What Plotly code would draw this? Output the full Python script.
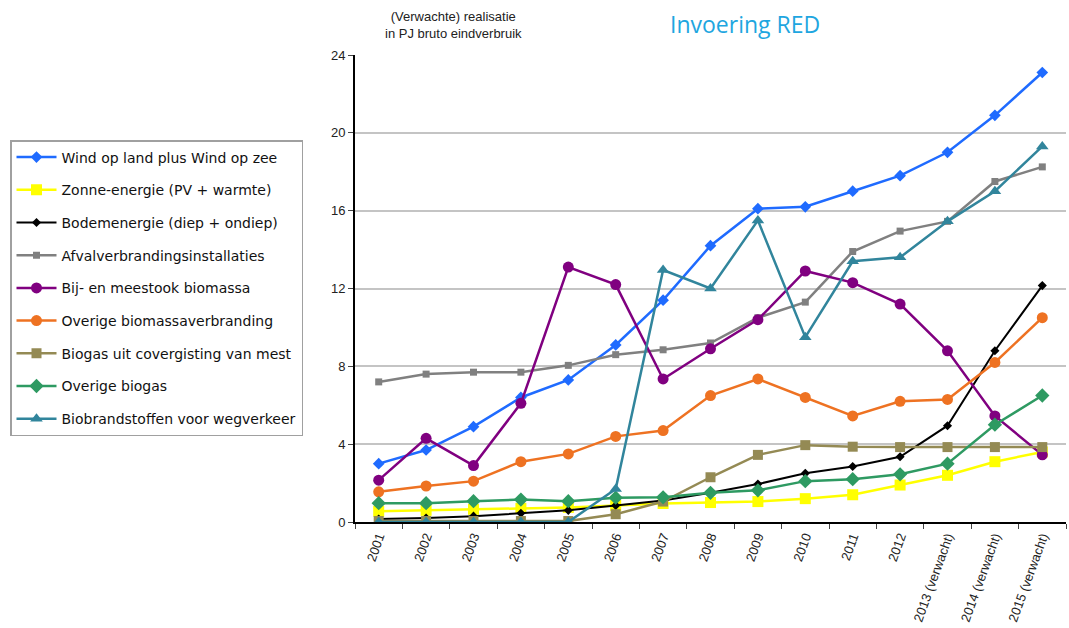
import plotly.graph_objects as go

years = ["2001", "2002", "2003", "2004", "2005", "2006", "2007", "2008", "2009",
         "2010", "2011", "2012", "2013 (verwacht)", "2014 (verwacht)", "2015 (verwacht)"]

wind = [3.0, 3.7, 4.9, 6.4, 7.3, 9.1, 11.4, 14.2, 16.1, 16.2, 17.0, 17.8, 19.0, 20.9, 23.1]
zon = [0.55, 0.6, 0.65, 0.7, 0.75, 0.85, 0.95, 1.0, 1.05, 1.2, 1.4, 1.9, 2.4, 3.1, 3.6]
bodem = [0.15, 0.2, 0.3, 0.45, 0.6, 0.85, 1.1, 1.5, 1.95, 2.5, 2.85, 3.35, 4.95, 8.8, 12.15]
afval = [7.2, 7.6, 7.7, 7.7, 8.05, 8.6, 8.85, 9.2, 10.5, 11.3, 13.9, 14.95, 15.45, 17.5, 18.25]
bijstook = [2.15, 4.3, 2.9, 6.1, 13.1, 12.2, 7.35, 8.9, 10.4, 12.9, 12.3, 11.2, 8.8, 5.45, 3.45]
overige_bio = [1.55, 1.85, 2.1, 3.1, 3.5, 4.4, 4.7, 6.5, 7.35, 6.4, 5.45, 6.2, 6.3, 8.2, 10.5]
covergisting = [0.05, 0.05, 0.05, 0.05, 0.05, 0.4, 1.05, 2.3, 3.45, 3.95, 3.87, 3.85, 3.85, 3.85, 3.85]
overige_biogas = [0.97, 0.97, 1.07, 1.15, 1.07, 1.25, 1.27, 1.5, 1.63, 2.1, 2.2, 2.45, 3.0, 5.0, 6.5]
biobrandstof = [0.0, 0.0, 0.0, 0.0, 0.0, 1.7, 12.95, 12.0, 15.5, 9.5, 13.4, 13.6, 15.45, 17.0, 19.3]

series = [
    ("Wind op land plus Wind op zee", wind, "#1F6BFF", "diamond", 9, 2.5),
    ("Zonne-energie (PV + warmte)", zon, "#FFFF00", "square", 11, 2.5),
    ("Bodemenergie (diep + ondiep)", bodem, "#000000", "diamond", 7, 2),
    ("Afvalverbrandingsinstallaties", afval, "#808080", "square", 7, 2.5),
    ("Bij- en meestook biomassa", bijstook, "#800080", "circle", 11, 2.5),
    ("Overige biomassaverbranding", overige_bio, "#EE7222", "circle", 11, 2.5),
    ("Biogas uit covergisting van mest", covergisting, "#948A54", "square", 10, 2.5),
    ("Overige biogas", overige_biogas, "#2E9A62", "diamond", 11, 2.5),
    ("Biobrandstoffen voor wegverkeer", biobrandstof, "#31859C", "triangle-up", 11, 2.5),
]

fig = go.Figure()
for i, (name, vals, color, sym, size, lw) in enumerate(series):
    fig.add_trace(go.Scatter(
        x=years, y=vals, name=name, mode="lines+markers",
        line=dict(color=color, width=lw),
        marker=dict(symbol=sym, size=size, color=color),
        legendgroup=f"g{i}",
    ))

fig.add_shape(type="line", xref="x", yref="y", x0=years[8], x1=years[8], y0=-0.2, y1=23.9,
              line=dict(color="#00B0F0", width=6), layer="above")

fig.add_annotation(text="Invoering RED", xref="paper", yref="paper", x=(745 - 355) / 711, y=(522 - 24) / 467,
                   showarrow=False, xanchor="center", yanchor="middle",
                   font=dict(family="Open Sans", size=23, color="#1EA6E0"))
fig.add_annotation(text="(Verwachte) realisatie<br>in PJ bruto eindverbruik", xref="paper", yref="paper",
                   x=(453 - 355) / 711, y=(522 - 25) / 467, showarrow=False, xanchor="center", yanchor="middle",
                   font=dict(family="Liberation Sans", size=13, color="#222222"))

fig.update_layout(
    width=1069, height=628,
    margin=dict(l=355, r=3, t=55, b=106),
    plot_bgcolor="white", paper_bgcolor="white",
    font=dict(family="Liberation Sans", color="#111111"),
    showlegend=True,
    legend=dict(
        x=(10 - 355) / 711, y=(522 - 140) / 467, xanchor="left", yanchor="top",
        bordercolor="#A0A0A0", borderwidth=1.5, bgcolor="white",
        font=dict(family="DejaVu Sans", size=14, color="#111111"),
        tracegroupgap=11.5, traceorder="grouped", itemwidth=40,
    ),
    xaxis=dict(
        type="category", tickangle=-70, tickfont=dict(size=13, color="#222222"),
        showline=True, linecolor="black", linewidth=2, showgrid=False,
        ticks="outside", tickson="boundaries", ticklen=5, tickcolor="#444444",
        range=[-0.5, 14.5],
    ),
    yaxis=dict(
        range=[0, 24], tickvals=[0, 4, 8, 12, 16, 20, 24], tickfont=dict(size=13, color="#222222"),
        showline=True, linecolor="black", linewidth=2,
        showgrid=True, gridcolor="#C4C4C4", gridwidth=2,
        ticks="outside", ticklen=5, tickcolor="#444444", zeroline=False,
    ),
)

fig.write_html("out.html")
